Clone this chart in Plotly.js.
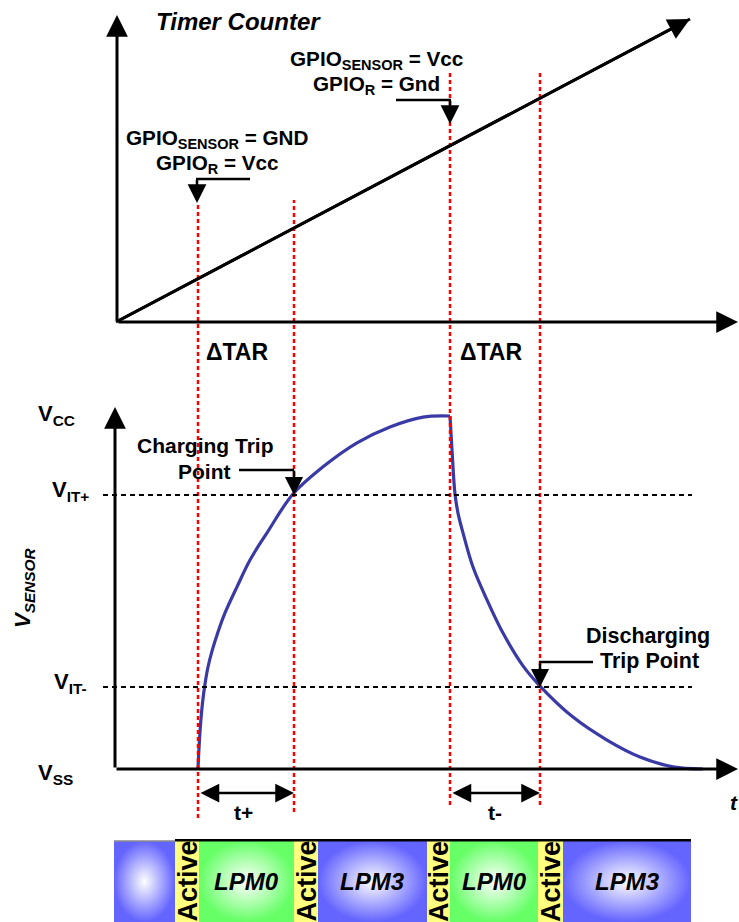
<!DOCTYPE html>
<html><head><meta charset="utf-8">
<script src="https://cdn.plot.ly/plotly-3.0.1.min.js"></script>
<style>html,body{margin:0;padding:0;background:#fff}#chart{width:739px;height:922px}</style>
</head><body><div id="chart"></div>
<script>
// ---------------- data ----------------
const eventTimes = [8.2, 17.8, 33.4, 42.4];
const counterTime = [0, 57.4];
const counterValue = [0, 30.3];
const chargeTime = [8.2, 8.3, 8.45, 8.65, 8.9, 9.2, 9.6, 10.2, 10.9, 12.1, 13.4, 15.1, 17.7, 20.7, 24.1, 27.4, 30.7, 33.4];
const chargeVolt = [0, 0.059, 0.125, 0.187, 0.241, 0.289, 0.334, 0.388, 0.442, 0.516, 0.592, 0.669, 0.779, 0.856, 0.924, 0.969, 0.997, 1.0];
const dischargeTime = [33.4, 33.6, 33.9, 34.2, 34.7, 35.7, 37.1, 38.7, 40.7, 42.4, 45.7, 49.1, 52.4, 55.7, 58.7];
const dischargeVolt = [1.0, 0.904, 0.779, 0.725, 0.669, 0.572, 0.479, 0.385, 0.292, 0.235, 0.147, 0.082, 0.034, 0.006, 0];
const thresholdVolt = [0.776, 0.232];
const thresholdNames = ['V<sub>IT+</sub>', 'V<sub>IT-</sub>'];
const stateBounds = [-0.2, 5.9, 8.3, 17.8, 20.2, 31.1, 33.4, 42.2, 44.7, 57.5];
const stateNames = ['LPM3', 'Active', 'LPM0', 'Active', 'LPM3', 'Active', 'LPM0', 'Active', 'LPM3'];
const stateLabels = ['', 'Active', 'LPM0', 'Active', 'LPM3', 'Active', 'LPM0', 'Active', 'LPM3'];

// ---------------- layout helpers ----------------
const W = 739, H = 922;
const px = v => v / W;
const py = v => 1 - v / H;
const FONT = 'Liberation Sans, Arial, sans-serif';
const stateColors = {
  LPM3: {grad: [[0, '#ffffff'], [1, '#6464ff']]},
  LPM0: {grad: [[0, '#ffffff'], [1, '#66ff66']]},
  Active: {fill: '#ffff80'}
};

const traces = [];
// counter
traces.push({x: counterTime, y: counterValue, xaxis: 'x', yaxis: 'y', mode: 'lines',
  line: {color: '#000', width: 3}, hoverinfo: 'skip'});
// sensor voltage
traces.push({x: chargeTime, y: chargeVolt, xaxis: 'x', yaxis: 'y2', mode: 'lines',
  line: {color: '#3a3aa6', width: 3.2, shape: 'spline', smoothing: 1}, hoverinfo: 'skip'});
traces.push({x: dischargeTime, y: dischargeVolt, xaxis: 'x', yaxis: 'y2', mode: 'lines',
  line: {color: '#3a3aa6', width: 3.2, shape: 'spline', smoothing: 1}, hoverinfo: 'skip'});
// power state bar
stateNames.forEach((s, i) => {
  const a = stateBounds[i], b = stateBounds[i + 1];
  const tr = {x: [a, b, b, a, a], y: [0, 0, 1, 1, 0], xaxis: 'x', yaxis: 'y3', mode: 'lines',
    fill: 'toself', line: {width: 0, color: 'rgba(0,0,0,0)'}, hoverinfo: 'skip'};
  const c = stateColors[s];
  if (c.grad) { tr.fillcolor = c.grad[1][1]; tr.fillgradient = {type: 'radial', colorscale: c.grad}; }
  else tr.fillcolor = c.fill;
  traces.push(tr);
});

const shapes = [];
const eventTop = [203, 200, 73, 73], eventBottom = [818, 812, 805, 805];
eventTimes.forEach((t, i) => shapes.push({type: 'line', xref: 'x', yref: 'paper', x0: t, x1: t,
  y0: py(eventBottom[i]), y1: py(eventTop[i]), line: {color: '#ff0000', width: 2.5, dash: '4px,3px'}}));
thresholdVolt.forEach(v => shapes.push({type: 'line', xref: 'x', yref: 'y2', x0: -1.3, x1: 57.6,
  y0: v, y1: v, line: {color: '#000', width: 2, dash: '5px,4px'}}));
// callout leaders
const leader = (x0, x1, y) => ({type: 'line', xref: 'paper', yref: 'paper', x0: px(x0), x1: px(x1),
  y0: py(y), y1: py(y), line: {color: '#000', width: 2.5}});
shapes.push(leader(196, 250, 179), leader(396, 451, 100), leader(239, 294, 470), leader(539, 593, 662));
// bar top edge
shapes.push({type: 'line', xref: 'x', yref: 'y3', x0: stateBounds[0], x1: stateBounds[1], y0: 1, y1: 1,
  line: {color: '#8a8a8a', width: 1.5}});
shapes.push({type: 'line', xref: 'x', yref: 'y3', x0: stateBounds[1], x1: stateBounds[stateBounds.length - 1],
  y0: 1.01, y1: 1.01, line: {color: '#000', width: 2.5}});

const ann = [];
const arrowBase = {showarrow: true, arrowhead: 2, arrowcolor: '#000', text: '', standoff: 0};
// axes arrows
ann.push(Object.assign({}, arrowBase, {xref: 'x', yref: 'y', axref: 'x', ayref: 'y', x: 0.1, y: 30.7, ax: 0.1, ay: 0, arrowwidth: 3, arrowsize: 1.45}));
ann.push(Object.assign({}, arrowBase, {xref: 'x', yref: 'y', axref: 'x', ayref: 'y', x: 62.2, y: 0, ax: 0.1, ay: 0, arrowwidth: 3, arrowsize: 1.45}));
ann.push(Object.assign({}, arrowBase, {xref: 'x', yref: 'y', axref: 'x', ayref: 'y',
  x: counterTime[1], y: counterValue[1], ax: counterTime[0], ay: counterValue[0], arrowwidth: 3, arrowsize: 1.45}));
ann.push(Object.assign({}, arrowBase, {xref: 'x', yref: 'y2', axref: 'x', ayref: 'y2', x: -0.1, y: 1.0255, ax: -0.1, ay: 0, arrowwidth: 3, arrowsize: 1.45}));
ann.push(Object.assign({}, arrowBase, {xref: 'x', yref: 'y2', axref: 'x', ayref: 'y2', x: 62.2, y: 0, ax: -0.1, ay: 0, arrowwidth: 3, arrowsize: 1.45}));
// callout arrows
ann.push(Object.assign({}, arrowBase, {xref: 'x', yref: 'paper', x: eventTimes[0] - 0.1, y: py(203), ax: 0, ay: -25, arrowwidth: 2.5, arrowsize: 1.5}));
ann.push(Object.assign({}, arrowBase, {xref: 'x', yref: 'paper', x: eventTimes[2], y: py(124), ax: 0, ay: -25, arrowwidth: 2.5, arrowsize: 1.5}));
ann.push(Object.assign({}, arrowBase, {xref: 'x', yref: 'y2', x: eventTimes[1], y: thresholdVolt[0], ax: 0, ay: -26, arrowwidth: 2.5, arrowsize: 1.45}));
ann.push(Object.assign({}, arrowBase, {xref: 'x', yref: 'y2', x: eventTimes[3], y: thresholdVolt[1], ax: 0, ay: -25, arrowwidth: 2.5, arrowsize: 1.45}));
// t+ / t- double arrows
[[0, 1], [2, 3]].forEach(([a, b]) => ann.push(Object.assign({}, arrowBase, {xref: 'x', yref: 'paper', axref: 'x', ayref: 'pixel',
  x: eventTimes[b], ax: eventTimes[a] + 0.1, y: py(793), ay: 0, arrowside: 'end+start', startarrowhead: 2,
  arrowwidth: 2.5, arrowsize: 1.5, startarrowsize: 1.5})));

// text labels
const label = (text, x, y, size, o) => Object.assign({xref: 'paper', yref: 'paper', x: px(x), y: py(y), text: text,
  showarrow: false, xanchor: 'center', yanchor: 'middle',
  font: {family: FONT, size: size, color: '#000', weight: 'bold', style: (o && o.italic) ? 'italic' : 'normal'}}, o && o.extra);
ann.push(label('Timer Counter', 238, 21, 24, {italic: true}));
ann.push(label('GPIO<sub>SENSOR</sub> = GND', 217, 139, 20.7));
ann.push(label('GPIO<sub>R</sub> = Vcc', 217, 164, 20.7));
ann.push(label('GPIO<sub>SENSOR</sub> = Vcc', 376, 60, 20.7));
ann.push(label('GPIO<sub>R</sub> = Gnd', 376, 85, 20.7));
ann.push(label('\u0394TAR', 237, 352, 23));
ann.push(label('\u0394TAR', 491, 352, 23));
ann.push(label('Charging Trip', 205, 445, 21));
ann.push(label('Point', 204, 471, 21));
ann.push(label('Discharging', 648, 636, 21.5));
ann.push(label('Trip Point', 649, 661, 21.5));
ann.push(label('V<sub>CC</sub>', 36, 415, 22, {extra: {xanchor: 'left'}}));
ann.push(label(thresholdNames[0], 50, 491, 22, {extra: {xanchor: 'left'}}));
ann.push(label(thresholdNames[1], 52, 683, 22, {extra: {xanchor: 'left'}}));
ann.push(label('V<sub>SS</sub>', 36, 774, 22, {extra: {xanchor: 'left'}}));
ann.push(label('V<sub>SENSOR</sub>', 24, 588, 22, {italic: true, extra: {textangle: -90}}));
ann.push(label('t+', 243, 812, 21));
ann.push(label('t-', 495, 812, 21));
ann.push(label('t', 728, 802, 21, {italic: true, extra: {xanchor: 'left'}}));
stateLabels.forEach((s, i) => {
  if (!s) return;
  const mid = (stateBounds[i] + stateBounds[i + 1]) / 2;
  const active = s === 'Active';
  ann.push({xref: 'x', yref: 'y3', x: mid, y: 0.5, text: s, showarrow: false, textangle: active ? -90 : 0,
    xanchor: 'center', yanchor: 'middle',
    font: {family: active ? 'Liberation Sans Narrow, Liberation Sans, Arial' : FONT, size: active ? 27 : 24,
      color: '#000', weight: 'bold', style: active ? 'normal' : 'italic'}});
});

const layout = {
  width: W, height: H, margin: {l: 0, r: 0, t: 0, b: 0}, showlegend: false,
  paper_bgcolor: '#fff', plot_bgcolor: 'rgba(0,0,0,0)',
  xaxis: {range: [-11.6, 62.3], visible: false, fixedrange: true},
  yaxis: {range: [-60, 32.2], visible: false, fixedrange: true},
  yaxis2: {range: [-(H - 769) / 353, 769 / 353], overlaying: 'y', visible: false, fixedrange: true},
  yaxis3: {range: [0, H / 81], overlaying: 'y', visible: false, fixedrange: true},
  shapes: shapes, annotations: ann
};
Plotly.newPlot('chart', traces, layout, {displayModeBar: false, staticPlot: true});
</script></body></html>
